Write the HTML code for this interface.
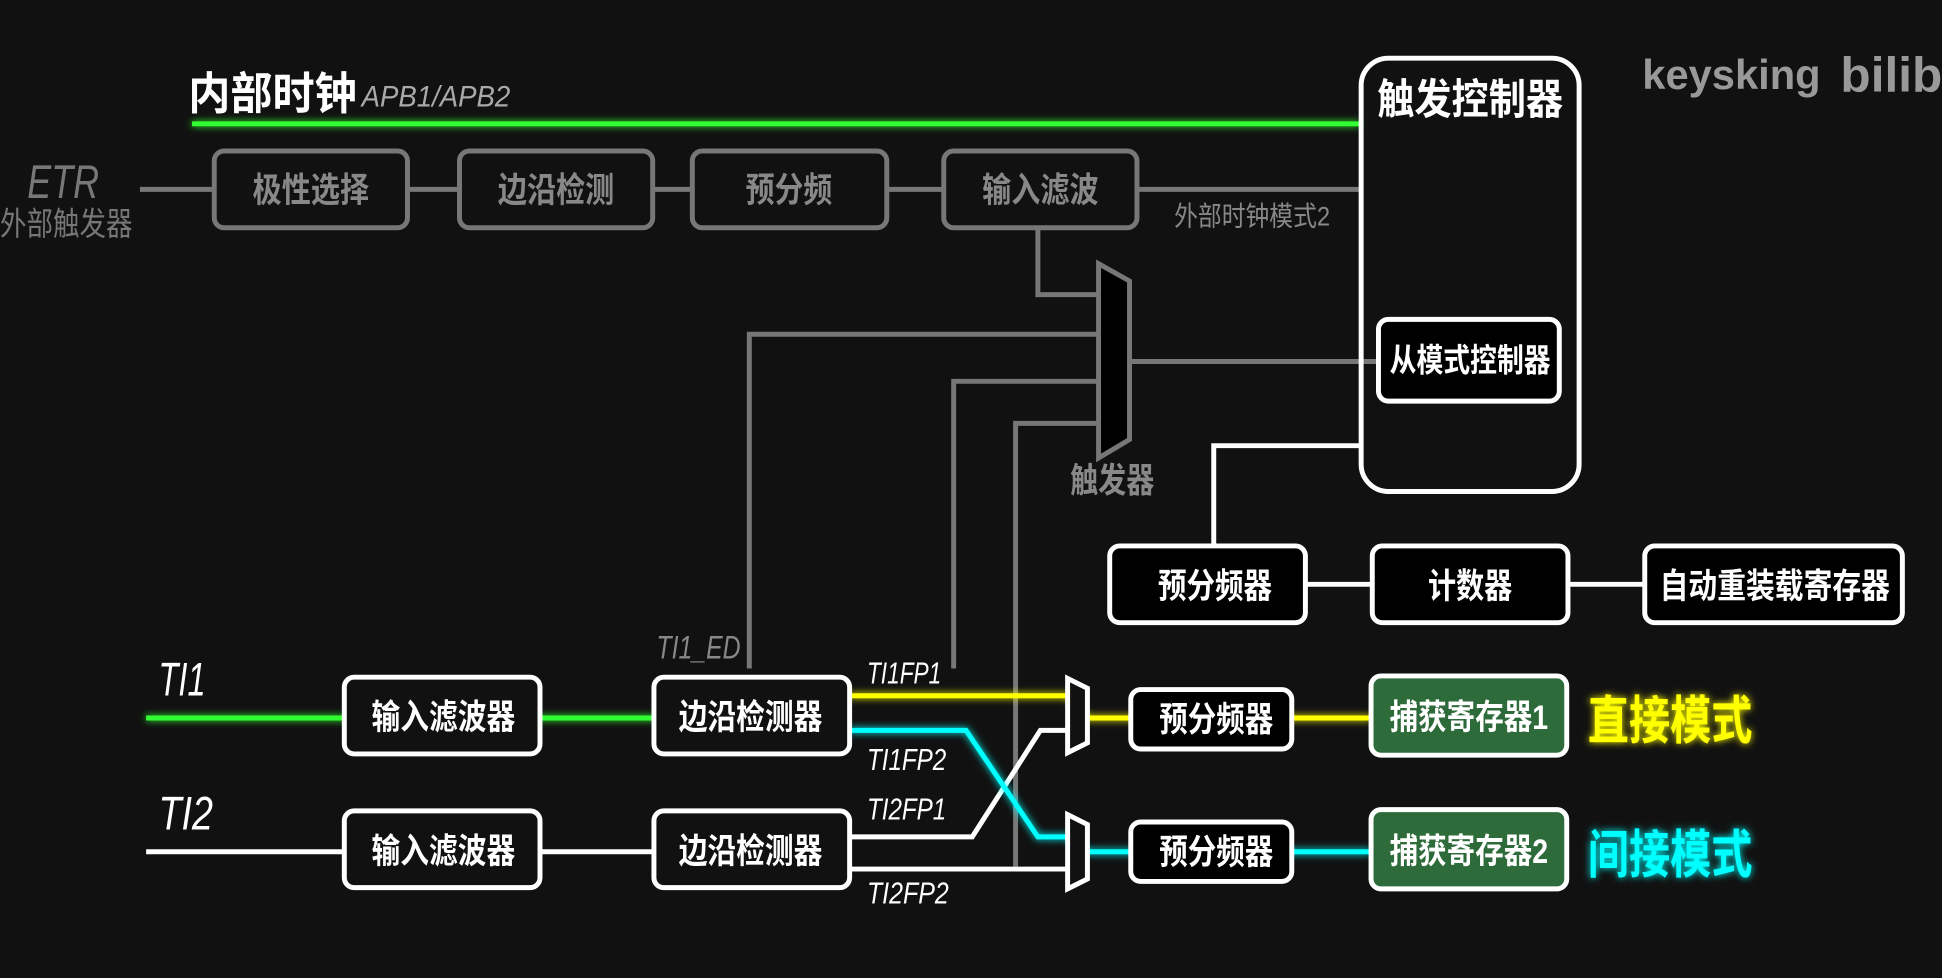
<!DOCTYPE html>
<html><head><meta charset="utf-8"><style>
html,body{margin:0;padding:0;background:#111;}
svg{display:block}
text{font-family:"Liberation Sans","Noto Sans CJK SC",sans-serif;}
</style></head><body>
<svg width="1942" height="978" viewBox="0 0 1568 790" preserveAspectRatio="none" xmlns="http://www.w3.org/2000/svg">
<defs>
<filter id="glow" filterUnits="userSpaceOnUse" x="0" y="0" width="1568" height="790"><feGaussianBlur stdDeviation="3" result="b"/><feMerge><feMergeNode in="b"/><feMergeNode in="SourceGraphic"/></feMerge></filter>
</defs>
<rect width="1568" height="790" fill="#111"/>
<!-- top -->
<text x="152" y="88" font-size="36" fill="#fff" font-weight="bold" textLength="136" lengthAdjust="spacingAndGlyphs">内部时钟</text>
<text x="292" y="86" font-size="24" fill="#aaa" font-style="italic" textLength="120" lengthAdjust="spacingAndGlyphs">APB1/APB2</text>
<line x1="155" y1="100" x2="1098" y2="100" stroke="#3f3" stroke-width="4" filter="url(#glow)"/>
<text x="1326" y="72" font-size="34" fill="#999" font-weight="bold" textLength="144" lengthAdjust="spacingAndGlyphs">keysking</text>
<text x="1486" y="74" font-size="40" fill="#999" font-weight="bold">bilib</text>
<!-- ETR -->
<text x="22" y="160" font-size="38" fill="#777" font-style="italic" textLength="58" lengthAdjust="spacingAndGlyphs">ETR</text>
<text x="0" y="190" font-size="26" fill="#777" textLength="107" lengthAdjust="spacingAndGlyphs">外部触发器</text>
<g stroke="#777" stroke-width="4" fill="none">
<line x1="113" y1="153" x2="1098" y2="153"/>
<polyline points="838,184 838,238 887,238"/>
<polyline points="605,540 605,270 887,270"/>
<polyline points="770,540 770,308 887,308"/>
<polyline points="820,700 820,342 887,342"/>
<line x1="912" y1="292" x2="1113" y2="292"/>
</g>
<g stroke="#777" stroke-width="4" fill="#111">
<rect x="173" y="122" width="156" height="62" rx="8"/>
<rect x="371" y="122" width="156" height="62" rx="8"/>
<rect x="559" y="122" width="157" height="62" rx="8"/>
<rect x="762" y="122" width="156" height="62" rx="8"/>
<polygon points="887,213 912,227 912,355 887,370" fill="#000"/>
</g>
<g font-size="28" fill="#888" text-anchor="middle" font-weight="bold">
<text x="251" y="163" textLength="94" lengthAdjust="spacingAndGlyphs">极性选择</text>
<text x="449" y="163" textLength="94" lengthAdjust="spacingAndGlyphs">边沿检测</text>
<text x="637" y="163" textLength="70" lengthAdjust="spacingAndGlyphs">预分频</text>
<text x="840" y="163" textLength="94" lengthAdjust="spacingAndGlyphs">输入滤波</text>
<text x="898" y="398" textLength="68" lengthAdjust="spacingAndGlyphs">触发器</text>
</g>
<text x="948" y="182" font-size="22" fill="#888" textLength="126" lengthAdjust="spacingAndGlyphs">外部时钟模式2</text>
<!-- trigger controller -->
<g stroke="#fff" stroke-width="4" fill="none">
<polyline points="980,440 980,360 1099,360"/>
<line x1="1054" y1="472" x2="1108" y2="472"/>
<line x1="1266" y1="472" x2="1328" y2="472"/>
</g>
<rect x="1099" y="47" width="176" height="350" rx="22" fill="none" stroke="#fff" stroke-width="4"/>
<g stroke="#fff" stroke-width="4" fill="#000">
<rect x="1113" y="258" width="146" height="66" rx="8"/>
<rect x="896" y="441" width="158" height="62" rx="8"/>
<rect x="1108" y="441" width="158" height="62" rx="8"/>
<rect x="1328" y="441" width="208" height="62" rx="8"/>
</g>
<g fill="#fff" text-anchor="middle" font-weight="bold">
<text x="1187" y="92" font-size="34" textLength="150" lengthAdjust="spacingAndGlyphs">触发控制器</text>
<text x="1187" y="300" font-size="26" textLength="130" lengthAdjust="spacingAndGlyphs">从模式控制器</text>
<text x="981" y="483" font-size="28" textLength="92" lengthAdjust="spacingAndGlyphs">预分频器</text>
<text x="1187" y="483" font-size="28" textLength="68" lengthAdjust="spacingAndGlyphs">计数器</text>
<text x="1433" y="483" font-size="28" textLength="186" lengthAdjust="spacingAndGlyphs">自动重装载寄存器</text>
</g>
<!-- inputs -->
<text x="128" y="562" font-size="38" fill="#fff" font-style="italic" textLength="38" lengthAdjust="spacingAndGlyphs">TI1</text>
<text x="128" y="670" font-size="38" fill="#fff" font-style="italic" textLength="44" lengthAdjust="spacingAndGlyphs">TI2</text>
<text x="530" y="532" font-size="26" fill="#888" font-style="italic" textLength="68" lengthAdjust="spacingAndGlyphs">TI1_ED</text>
<line x1="118" y1="580" x2="530" y2="580" stroke="#3f3" stroke-width="4" filter="url(#glow)"/>
<g stroke="#fff" stroke-width="4" fill="none">
<line x1="118" y1="688" x2="530" y2="688"/>
<polyline points="686,676 785,676 840,590 862,590"/>
<line x1="686" y1="702" x2="862" y2="702"/>
</g>
<polyline points="686,562 862,562 878,580 1107,580" stroke="#ff0" stroke-width="4" fill="none" filter="url(#glow)"/>
<polyline points="686,590 780,590 838,676 862,676 878,688 1107,688" stroke="#0ff" stroke-width="4" fill="none" filter="url(#glow)"/>
<g stroke="#fff" stroke-width="4" fill="#111">
<rect x="278" y="547" width="158" height="62" rx="8"/>
<rect x="528" y="547" width="158" height="62" rx="8"/>
<rect x="278" y="655" width="158" height="62" rx="8"/>
<rect x="528" y="655" width="158" height="62" rx="8"/>
<polygon points="862,548 878,556 878,600 862,608"/>
<polygon points="862,658 878,666 878,710 862,718"/>
<rect x="913" y="557" width="130" height="48" rx="8" fill="#000"/>
<rect x="913" y="664" width="130" height="48" rx="8" fill="#000"/>
<rect x="1107" y="546" width="158" height="64" rx="8" fill="#2e6b3a"/>
<rect x="1107" y="654" width="158" height="64" rx="8" fill="#2e6b3a"/>
</g>
<g fill="#fff" text-anchor="middle" font-size="28" font-weight="bold">
<text x="358" y="589" textLength="116" lengthAdjust="spacingAndGlyphs">输入滤波器</text>
<text x="606" y="589" textLength="116" lengthAdjust="spacingAndGlyphs">边沿检测器</text>
<text x="358" y="697" textLength="116" lengthAdjust="spacingAndGlyphs">输入滤波器</text>
<text x="606" y="697" textLength="116" lengthAdjust="spacingAndGlyphs">边沿检测器</text>
<text x="982" y="591" textLength="92" lengthAdjust="spacingAndGlyphs">预分频器</text>
<text x="982" y="698" textLength="92" lengthAdjust="spacingAndGlyphs">预分频器</text>
<text x="1186" y="589" textLength="128" lengthAdjust="spacingAndGlyphs">捕获寄存器1</text>
<text x="1186" y="697" textLength="128" lengthAdjust="spacingAndGlyphs">捕获寄存器2</text>
</g>
<g fill="#fff" font-size="25" font-style="italic">
<text x="700" y="552" textLength="60" lengthAdjust="spacingAndGlyphs">TI1FP1</text>
<text x="700" y="622" textLength="64" lengthAdjust="spacingAndGlyphs">TI1FP2</text>
<text x="700" y="662" textLength="64" lengthAdjust="spacingAndGlyphs">TI2FP1</text>
<text x="700" y="730" textLength="66" lengthAdjust="spacingAndGlyphs">TI2FP2</text>
</g>
<text x="1282" y="597" font-size="42" font-weight="bold" fill="#ff0" filter="url(#glow)" textLength="133" lengthAdjust="spacingAndGlyphs">直接模式</text>
<text x="1282" y="705" font-size="42" font-weight="bold" fill="#0ff" filter="url(#glow)" textLength="133" lengthAdjust="spacingAndGlyphs">间接模式</text>
</svg>
</body></html>
